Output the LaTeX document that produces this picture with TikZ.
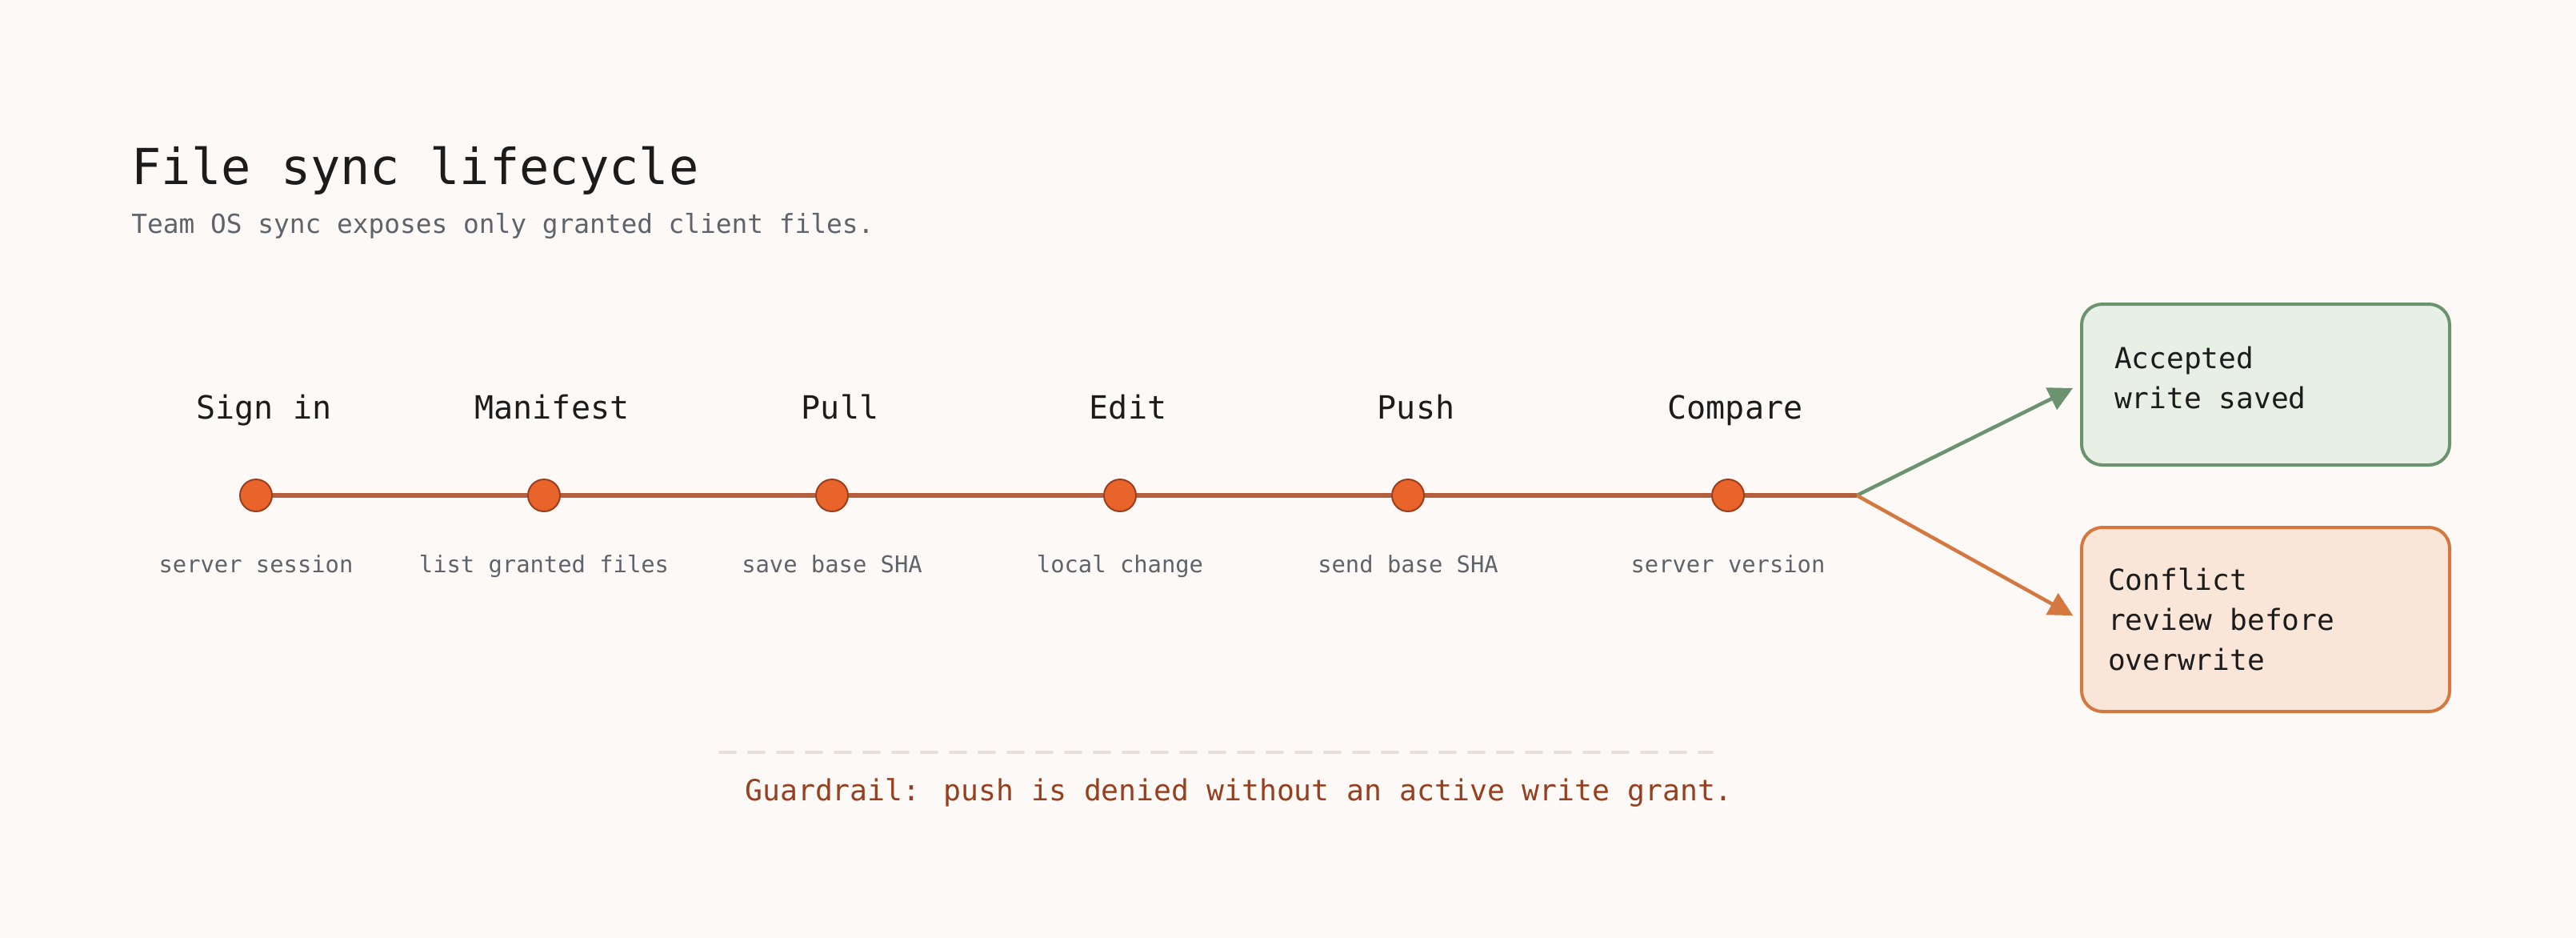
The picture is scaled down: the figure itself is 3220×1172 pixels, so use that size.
\documentclass[tikz,border=0pt]{standalone}
\usepackage{fontspec}
\setmainfont{DejaVu Sans Mono}
\usetikzlibrary{arrows.meta}
\definecolor{paper}{HTML}{FDF9F6}
\definecolor{ink}{HTML}{1C1C1C}
\definecolor{muted}{HTML}{5F636A}
\definecolor{rail}{HTML}{B35F40}
\definecolor{dotfill}{HTML}{E9642B}
\definecolor{dotrim}{HTML}{9A3E20}
\definecolor{okline}{HTML}{6B9370}
\definecolor{okfill}{HTML}{E8F0E6}
\definecolor{warnline}{HTML}{D4783F}
\definecolor{warnfill}{HTML}{F9E6D8}
\definecolor{guard}{HTML}{97401F}
\definecolor{dashgray}{HTML}{E6E0DA}
\newcommand{\rigidspace}{\spaceskip=0.602em\relax}
\tikzstyle{stepdot}=[circle,fill=dotfill,draw=dotrim,line width=1pt,minimum size=20pt,inner sep=0pt]

\begin{document}
\begin{tikzpicture}[x=0.5pt,y=-0.5pt]
    \tikzstyle{stepname}=[anchor=base,inner sep=0pt,text=ink,font=\fontsize{20}{24}\selectfont]
    \tikzstyle{stepnote}=[anchor=base,inner sep=0pt,text=muted,font=\fontsize{14.4}{17}\selectfont]
    \tikzstyle{outcome}=[anchor=west,rounded corners=13pt,line width=2pt,minimum width=230pt,align=left,text=ink,font=\fontsize{18.1}{25}\selectfont,execute at begin node=\rigidspace]
    \fill[paper] (0,0) rectangle (3220,1172);
    \node[anchor=base west,inner sep=0pt,text=ink,font=\fontsize{31}{36}\selectfont] (title) at (164,230) {File sync lifecycle};
    \node[anchor=base west,inner sep=0pt,text=muted,font=\fontsize{16.4}{19}\selectfont] (subtitle) at (164,291) {Team OS sync exposes only granted client files.};
    \node[stepdot] (signin)   at (320,619)  {};
    \node[stepdot] (manifest) at (680,619)  {};
    \node[stepdot] (pull)     at (1040,619) {};
    \node[stepdot] (edit)     at (1400,619) {};
    \node[stepdot] (push)     at (1760,619) {};
    \node[stepdot] (compare)  at (2160,619) {};
    \coordinate (split) at (2321,619);
    \node[stepname] (signinname)   at (330,523)  {Sign in};
    \node[stepname] (manifestname) at (690,523)  {Manifest};
    \node[stepname] (pullname)     at (1050,523) {Pull};
    \node[stepname] (editname)     at (1410,523) {Edit};
    \node[stepname] (pushname)     at (1770,523) {Push};
    \node[stepname] (comparename)  at (2169,523) {Compare};
    \node[stepnote] (signinnote)   at (320,715)  {server session};
    \node[stepnote] (manifestnote) at (680,715)  {list granted files};
    \node[stepnote] (pullnote)     at (1040,715) {save base SHA};
    \node[stepnote] (editnote)     at (1400,715) {local change};
    \node[stepnote] (pushnote)     at (1760,715) {send base SHA};
    \node[stepnote] (comparenote)  at (2160,715) {server version};
    \node[outcome,draw=okline,fill=okfill,minimum height=100.5pt,text width=189pt,inner xsep=20.5pt,text depth=34pt] (accepted) at (2600,480.5) {Accepted\\write saved};
    \node[outcome,draw=warnline,fill=warnfill,minimum height=115pt,text width=197pt,inner xsep=16.5pt] (conflict) at (2600,774) {Conflict\\review before\\overwrite};
    \draw[rail,line width=3pt] (signin) -- (manifest) -- (pull) -- (edit) -- (push) -- (compare) -- (split);
    \draw[okline,line width=2.25pt,-{Triangle[length=15pt,width=15pt]},shorten >=5pt] (split) -- (accepted.west);
    \draw[warnline,line width=2.25pt,-{Triangle[length=15pt,width=15pt]},shorten >=5pt] (split) -- (conflict.west);
    \coordinate (guardfrom) at (900,940);
    \coordinate (guardto) at (2140,940);
    \draw[dashgray,line width=2pt,line cap=round,dash pattern=on 9.5pt off 8.5pt] (guardfrom) -- (guardto);
    \node[anchor=base west,inner sep=0pt,text=guard,font=\fontsize{18.2}{22}\selectfont] (guardrail) at (931,1000) {Guardrail: push is denied without an active write grant.};
\end{tikzpicture}
\end{document}
